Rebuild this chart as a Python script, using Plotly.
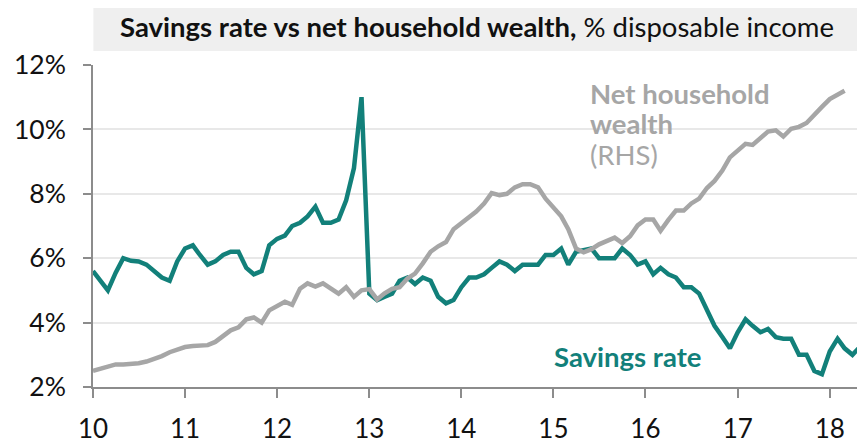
import pandas as pd
import plotly.graph_objects as go

# Monthly observations, Jan 2010 onwards
savings_rate = [5.6, 5.3, 5.0, 5.55, 6.0, 5.92, 5.9, 5.8, 5.6, 5.4,
                5.3, 5.9, 6.3, 6.4, 6.1, 5.8, 5.9, 6.1, 6.2, 6.2,
                5.7, 5.5, 5.6, 6.4, 6.6, 6.7, 7.0, 7.1, 7.3, 7.6,
                7.1, 7.1, 7.2, 7.8, 8.8, 11.0, 4.9, 4.7, 4.8, 4.9,
                5.3, 5.4, 5.2, 5.4, 5.3, 4.8, 4.6, 4.7, 5.1, 5.4,
                5.4, 5.5, 5.7, 5.9, 5.8, 5.6, 5.8, 5.8, 5.8, 6.1,
                6.1, 6.3, 5.8, 6.2, 6.25, 6.3, 6.0, 6.0, 6.0, 6.3,
                6.1, 5.8, 5.9, 5.5, 5.7, 5.5, 5.4, 5.1, 5.1, 4.9,
                4.4, 3.9, 3.55, 3.2, 3.7, 4.1, 3.9, 3.7, 3.8, 3.55,
                3.5, 3.5, 3.0, 3.0, 2.5, 2.4, 3.1, 3.5, 3.2, 3.0,
                3.25]

# Net household wealth (RHS), drawn in chart position units
net_wealth = [2.5, 2.56, 2.63, 2.7, 2.7, 2.71, 2.74, 2.79, 2.87, 2.96,
              3.08, 3.17, 3.24, 3.27, 3.28, 3.3, 3.4, 3.6, 3.76, 3.85,
              4.1, 4.16, 4.0, 4.38, 4.5, 4.65, 4.55, 5.05, 5.22, 5.12,
              5.22, 5.05, 4.9, 5.1, 4.8, 5.0, 5.04, 4.72, 4.9, 5.05,
              5.1, 5.37, 5.52, 5.84, 6.2, 6.37, 6.5, 6.9, 7.1, 7.28,
              7.45, 7.7, 8.02, 7.96, 8.0, 8.2, 8.3, 8.3, 8.2, 7.85,
              7.55, 7.3, 6.9, 6.3, 6.18, 6.28, 6.43, 6.52, 6.64, 6.47,
              6.68, 7.02, 7.2, 7.2, 6.85, 7.19, 7.48, 7.48, 7.7, 7.85,
              8.18, 8.4, 8.72, 9.13, 9.35, 9.55, 9.52, 9.73, 9.93, 9.97,
              9.78, 10.02, 10.08, 10.2, 10.47, 10.7, 10.94, 11.07, 11.2]

dates_s = pd.date_range("2010-01-01", periods=len(savings_rate), freq="MS")
dates_w = pd.date_range("2010-01-01", periods=len(net_wealth), freq="MS")

y_ticks = [2, 4, 6, 8, 10, 12]
y_tick_labels = ["2%", "4%", "6%", "8%", "10%", "12%"]

TEAL = "#12807a"
GREY = "#a6a6a6"
FONT = "Lato"

fig = go.Figure()
fig.add_trace(go.Scatter(x=dates_w, y=net_wealth, mode="lines", yaxis="y2",
                         line=dict(color=GREY, width=4.5), hoverinfo="skip"))
fig.add_trace(go.Scatter(x=dates_s, y=savings_rate, mode="lines",
                         line=dict(color=TEAL, width=4.5), hoverinfo="skip"))

fig.update_layout(
    width=865, height=444,
    margin=dict(l=85, r=13, t=57, b=65),
    paper_bgcolor="white", plot_bgcolor="white",
    showlegend=False,
    font=dict(family=FONT, color="#111111"),
    xaxis=dict(type="date", range=["2010-01-01", "2018-05-01"],
               tickvals=pd.date_range("2010-01-01", "2018-01-01", freq="YS"),
               tickformat="%y", ticks="outside", ticklen=9, tickcolor="#8c8c8c",
               tickwidth=1.5, showline=True, linecolor="#8c8c8c", linewidth=1.5,
               showgrid=False, automargin=False,
               tickfont=dict(size=26, family=FONT, color="#111111"),
               ticklabelstandoff=9),
    yaxis=dict(range=[2, 12], tickvals=y_ticks, ticktext=y_tick_labels,
               ticks="outside", ticklen=8, tickcolor="#8c8c8c", tickwidth=1.5,
               showline=True, linecolor="#8c8c8c", linewidth=1.5,
               showgrid=True, gridcolor="#e8e8e8", gridwidth=1.5,
               zeroline=False, automargin=False,
               tickfont=dict(size=26.5, family=FONT, color="#111111"),
               ticklabelstandoff=12),
    yaxis2=dict(range=[2, 12], tickvals=y_ticks, overlaying="y", side="right",
                ticks="outside", ticklen=8, tickcolor="#8c8c8c", tickwidth=1.5,
                showline=True, linecolor="#8c8c8c", linewidth=1.5,
                showgrid=False, showticklabels=False, zeroline=False,
                automargin=False),
)

# title box
fig.add_shape(type="rect", xref="paper", yref="paper",
              x0=0.0005, x1=1.02, y0=1.0435, y1=1.22,
              fillcolor="#efefef", line=dict(width=0), layer="below")
fig.add_annotation(xref="paper", yref="paper", x=0.5, y=1.12,
                   xanchor="center", yanchor="middle", showarrow=False,
                   text="<b>Savings rate vs net household wealth,</b> % disposable income",
                   font=dict(size=27.5, family=FONT, color="#111111"))

label_lines = ["<b>Net household</b>", "<b>wealth</b>", "(RHS)"]
label_y = [0.913, 0.817, 0.7205]
for txt, yy in zip(label_lines, label_y):
    fig.add_annotation(xref="paper", yref="paper", x=0.646, y=yy,
                       xanchor="left", yanchor="middle", showarrow=False,
                       text=txt, font=dict(size=27.5, family=FONT, color=GREY))
fig.add_annotation(xref="paper", yref="paper", x=0.599, y=0.096,
                   xanchor="left", yanchor="middle", showarrow=False,
                   text="<b>Savings rate</b>",
                   font=dict(size=27.5, family=FONT, color=TEAL))

fig.write_html("out.html")
